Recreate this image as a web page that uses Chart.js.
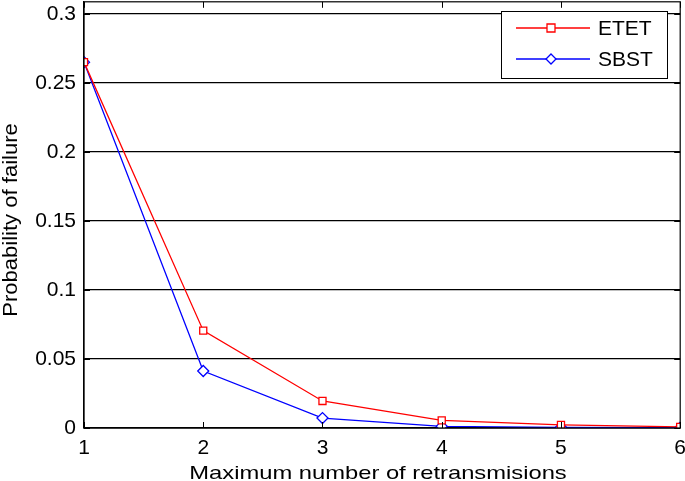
<!DOCTYPE html>
<html><head><meta charset="utf-8">
<script src="https://cdn.jsdelivr.net/npm/chart.js@4"></script>
<style>html,body{margin:0;padding:0;background:#fff;overflow:hidden}#wrap{width:685px;height:481px;overflow:hidden;position:relative}#c{position:absolute;left:0;top:-5px}</style>
</head><body><div id="wrap"><canvas id="c" width="687" height="486"></canvas></div>
<script>
const categories = [1, 2, 3, 4, 5, 6];
const etet = [0.265, 0.0705, 0.0196, 0.0055, 0.0022, 0.0008];
const sbst = [0.265, 0.0413, 0.0072, 0.0012, 0.0005, 0.0002];
const yTicks = [0, 0.05, 0.1, 0.15, 0.2, 0.25, 0.3];
const yTickLabels = ['0', '0.05', '0.1', '0.15', '0.2', '0.25', '0.3'];
const xTicks = [1, 2, 3, 4, 5, 6];
const xTitle = 'Maximum number of retransmisions';
const yTitle = 'Probability of failure';
const FONT = 'Liberation Sans, Arial, sans-serif';
const OFF = 5; // canvas is shifted up by this many pixels

const boxPlugin = {
  id: 'box',
  afterDraw(chart) {
    const {ctx, chartArea: a, scales} = chart;
    ctx.save();
    ctx.strokeStyle = '#000'; ctx.lineWidth = 1.2;
    ctx.strokeRect(a.left, a.top, a.right - a.left, a.bottom - a.top);
    ctx.lineWidth = 1;
    xTicks.forEach(v => {
      const x = Math.round(scales.x.getPixelForValue(v)) + 0.5;
      ctx.beginPath(); ctx.moveTo(x, a.bottom); ctx.lineTo(x, a.bottom - 6); ctx.stroke();
      ctx.beginPath(); ctx.moveTo(x, a.top); ctx.lineTo(x, a.top + 6); ctx.stroke();
    });
    yTicks.forEach(v => {
      const y = Math.round(scales.y.getPixelForValue(v)) + 0.5;
      ctx.beginPath(); ctx.moveTo(a.left, y); ctx.lineTo(a.left + 6, y); ctx.stroke();
      ctx.beginPath(); ctx.moveTo(a.right, y); ctx.lineTo(a.right - 6, y); ctx.stroke();
    });
    ctx.fillStyle = '#000';
    ctx.textAlign = 'center'; ctx.textBaseline = 'alphabetic';
    ctx.save();
    ctx.translate(378, 479 + OFF);
    ctx.scale(1.25, 1);
    ctx.font = '19px ' + FONT;
    ctx.fillText(xTitle, 0, 0);
    ctx.restore();
    ctx.save();
    ctx.translate(17, 220 + OFF);
    ctx.rotate(-Math.PI / 2);
    ctx.font = '21px ' + FONT;
    ctx.scale(1.05, 1);
    ctx.fillText(yTitle, 0, 0);
    ctx.restore();
    const lx = 501, ly = 11 + OFF, lw = 166, lh = 67;
    ctx.fillStyle = '#fff';
    ctx.fillRect(lx, ly, lw, lh);
    ctx.strokeStyle = '#000'; ctx.lineWidth = 1;
    ctx.strokeRect(lx + 0.5, ly + 0.5, lw, lh);
    const rows = [28 + OFF, 59 + OFF];
    chart.data.datasets.forEach((ds, i) => {
      const y = rows[i];
      ctx.strokeStyle = ds.borderColor; ctx.lineWidth = 1.3;
      ctx.beginPath(); ctx.moveTo(516, y); ctx.lineTo(590, y); ctx.stroke();
      ctx.beginPath();
      if (ds.pointStyle === 'rect') {
        ctx.rect(547, y - 4, 8, 8);
      } else {
        ctx.moveTo(551, y - 5); ctx.lineTo(556, y); ctx.lineTo(551, y + 5); ctx.lineTo(546, y); ctx.closePath();
      }
      ctx.fillStyle = '#fff'; ctx.fill(); ctx.stroke();
      ctx.fillStyle = '#000'; ctx.font = '21px ' + FONT;
      ctx.textAlign = 'left'; ctx.textBaseline = 'middle';
      ctx.fillText(ds.label, 598, y + 1);
    });
    ctx.restore();
  }
};

new Chart(document.getElementById('c'), {
  type: 'line',
  data: {
    datasets: [
      { label: 'ETET', data: categories.map((x, i) => ({x, y: etet[i]})), borderColor: '#ff0000', backgroundColor: '#fff',
        borderWidth: 1.3, pointStyle: 'rect', pointRadius: 5, pointBorderWidth: 1.3, tension: 0 },
      { label: 'SBST', data: categories.map((x, i) => ({x, y: sbst[i]})), borderColor: '#0000ff', backgroundColor: '#fff',
        borderWidth: 1.3, pointStyle: 'rectRot', pointRadius: 5.5, pointBorderWidth: 1.3, tension: 0 }
    ]
  },
  options: {
    responsive: false, animation: false, devicePixelRatio: 1,
    layout: { padding: { top: 1, right: 2, left: 0, bottom: 0 } },
    plugins: { legend: { display: false }, tooltip: { enabled: false } },
    scales: {
      x: {
        type: 'linear', min: 1, max: 6,
        afterBuildTicks: s => { s.ticks = xTicks.map(v => ({value: v})); },
        afterFit: s => { s.height = 53; s.paddingLeft = 0; s.paddingRight = 0; },
        grid: { display: false, drawTicks: false },
        border: { color: '#000', width: 1.2 },
        ticks: { color: '#000', font: { family: FONT, size: 21 }, padding: 8, maxRotation: 0 },
        title: { display: false }
      },
      y: {
        type: 'linear', min: 0, max: 0.3087,
        afterBuildTicks: s => { s.ticks = yTicks.map(v => ({value: v})); },
        afterFit: s => { s.width = 84; s.paddingTop = 0; s.paddingBottom = 0; },
        grid: { color: '#000', lineWidth: 1.2, drawTicks: false },
        border: { color: '#000', width: 1.2 },
        ticks: { color: '#000', font: { family: FONT, size: 21 }, padding: 8,
          callback: (v) => { const i = yTicks.indexOf(v); return i >= 0 ? yTickLabels[i] : ''; } },
        title: { display: false }
      }
    }
  },
  plugins: [boxPlugin]
});
</script></body></html>
